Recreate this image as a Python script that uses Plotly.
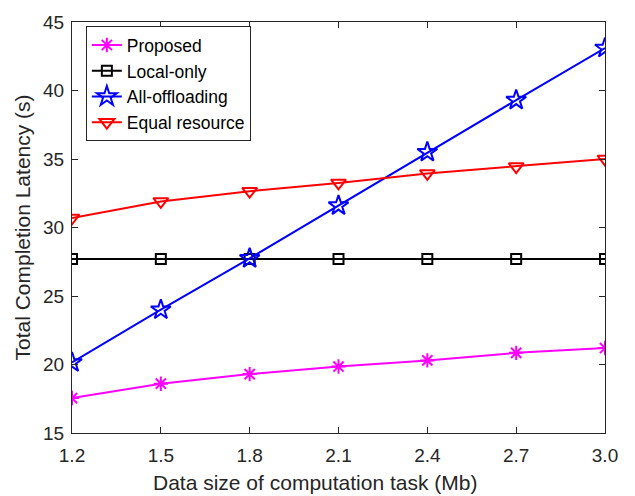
import plotly.graph_objects as go

x = [1.2, 1.5, 1.8, 2.1, 2.4, 2.7, 3.0]
x_ticks = ["1.2", "1.5", "1.8", "2.1", "2.4", "2.7", "3.0"]
proposed = [17.55, 18.6, 19.3, 19.85, 20.3, 20.85, 21.2]
local_only = [27.7, 27.7, 27.7, 27.7, 27.7, 27.7, 27.7]
all_offloading = [20.15, 24.0, 27.75, 31.6, 35.5, 39.3, 43.1]
equal_resource = [30.7, 31.9, 32.65, 33.25, 33.95, 34.45, 35.0]

FONT = "Liberation Sans, Arial"
fig = go.Figure()
fig.add_trace(go.Scatter(x=x, y=proposed, name="Proposed", mode="lines+markers",
                         line=dict(color="#FF00FF", width=2),
                         marker=dict(symbol="asterisk-open", size=12, line=dict(color="#FF00FF", width=2))))
fig.add_trace(go.Scatter(x=x, y=local_only, name="Local-only", mode="lines+markers",
                         line=dict(color="black", width=2),
                         marker=dict(symbol="square-open", size=10, color="black", line=dict(color="black", width=2))))
fig.add_trace(go.Scatter(x=x, y=all_offloading, name="All-offloading", mode="lines+markers",
                         line=dict(color="#0000FF", width=2),
                         marker=dict(symbol="star-open", size=15, color="#0000FF", line=dict(color="#0000FF", width=2))))
fig.add_trace(go.Scatter(x=x, y=equal_resource, name="Equal resource", mode="lines+markers",
                         line=dict(color="#FF0000", width=2),
                         marker=dict(symbol="triangle-down-open", size=13, color="#FF0000", line=dict(color="#FF0000", width=2))))

axis_common = dict(showline=True, linecolor="#262626", linewidth=1, mirror="ticks",
                   ticks="inside", ticklen=6, tickcolor="#262626", showgrid=False, zeroline=False,
                   tickfont=dict(family=FONT, size=19, color="#262626"))
fig.update_xaxes(range=[1.2, 3.0], tickvals=x, ticktext=x_ticks, ticklabelstandoff=5,
                 **axis_common)
fig.update_yaxes(range=[15, 45], tickvals=[15, 20, 25, 30, 35, 40, 45], ticklabelstandoff=3,
                 title=dict(text="Total Completion Latency (s)", font=dict(family=FONT, size=21, color="#262626"), standoff=6),
                 **axis_common)
fig.add_annotation(text="Data size of computation task (Mb)", xref="paper", yref="paper",
                   x=0.456, y=-0.087, xanchor="center", yanchor="top", showarrow=False,
                   font=dict(family=FONT, size=21, color="#262626"))
fig.update_layout(width=635, height=496, margin=dict(l=72, r=30, t=19, b=63),
                  plot_bgcolor="white", paper_bgcolor="white",
                  legend=dict(x=0.026, y=0.99, xanchor="left", yanchor="top",
                              bgcolor="white", bordercolor="#262626", borderwidth=1,
                              font=dict(family=FONT, size=17.5, color="black"),
                              tracegroupgap=0, itemwidth=30))
fig.write_html("out.html")
